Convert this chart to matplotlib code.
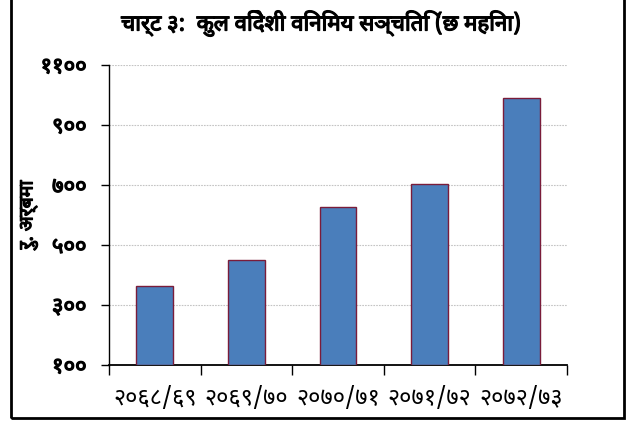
import matplotlib
matplotlib.use("Agg")
import matplotlib.pyplot as plt
import matplotlib.patheffects as pe
from matplotlib.patches import Rectangle

plt.rcParams['font.family'] = ['Noto Sans Devanagari', 'DejaVu Sans']

years = ['२०६८/६९', '२०६९/७०', '२०७०/७१', '२०७१/७२', '२०७२/७३']
reserves = [363, 449, 626, 705, 989]   # रु. अर्बमा
yticks = [100, 300, 500, 700, 900, 1100]
ytick_labels = ['१००', '३००', '५००', '७००', '९००', '११००']

# the devanagari font has no bold face, so thicken strokes instead
bold = [pe.withStroke(linewidth=0.9, foreground='black')]

fig = plt.figure(figsize=(6.31, 4.23), dpi=100)
ax = fig.add_axes([0.1727, 0.1371, 0.7259, 0.7092])

x = range(1, len(years) + 1)
ax.bar(x, [v - 100 for v in reserves], bottom=100, width=0.4,
       color='#4a7ebb', edgecolor='#7a1c3a', linewidth=1.0, zorder=3)

ax.set_xlim(0.5, len(years) + 0.5)
ax.set_ylim(100, 1100)
ax.set_yticks(yticks)
ax.set_yticklabels(ytick_labels, fontsize=16, path_effects=bold)
ax.set_xticks([i + 0.5 for i in range(len(years) + 1)])
ax.set_xticklabels([])
ax.set_xticks(list(x), minor=True)
ax.set_xticklabels(years, minor=True, fontsize=17)
ax.tick_params(axis='x', which='minor', length=0, pad=16)
ax.tick_params(axis='x', which='major', length=7, width=1, direction='out')
ax.tick_params(axis='y', length=6, width=1, direction='out', pad=10)

for v in yticks[1:]:
    ax.axhline(v, color='#c4c4c4', linestyle=(0, (1.5, 1)), linewidth=0.8, zorder=1)

for s in ['top', 'right']:
    ax.spines[s].set_visible(False)
ax.spines['left'].set_linewidth(1)
ax.spines['bottom'].set_linewidth(1.3)

ax.set_ylabel('रु. अर्बमा', fontsize=14, labelpad=2, path_effects=bold)

fig.text(0.51, 0.945, 'चार्ट ३:  कुल विदेशी विनिमय सञ्चिति (छ महिना)',
         ha='center', va='center', fontsize=16, path_effects=bold)

fig.patches.append(Rectangle((11 / 631, 5 / 423), 613 / 631, 430 / 423,
                             transform=fig.transFigure, fill=False,
                             edgecolor='black', linewidth=2))

fig.savefig('out.png')
